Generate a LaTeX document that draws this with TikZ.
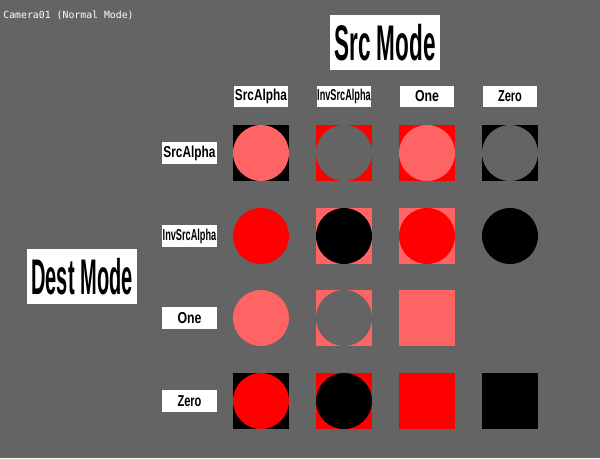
\documentclass[tikz,border=0pt]{standalone}
\usepackage{fontspec}
\setmainfont{Liberation Sans}
\setmonofont{DejaVu Sans Mono}
\usepackage{graphicx}
\usepackage{tikz}
\usetikzlibrary{positioning}

\definecolor{bggray}{RGB}{100,100,100}
\definecolor{redlight}{RGB}{255,100,100}
\definecolor{redfull}{RGB}{255,0,0}

% squeeze a label sideways
\newcommand{\narrow}[2]{\scalebox{#1}[1]{#2}}

\begin{document}
\begin{tikzpicture}[
    x=0.02cm, y=-0.02cm,
    title/.style = {fill=white, minimum width=2.2cm, minimum height=1.1cm, inner sep=0pt,
                    font=\fontsize{28.5}{30}\selectfont\bfseries},
    lbl/.style   = {fill=white, minimum width=1.1cm, minimum height=0.43cm, inner sep=0pt,
                    font=\fontsize{9}{10}\selectfont\bfseries},
    sq/.style    = {rectangle, minimum size=1.12cm, inner sep=0pt},
    disc/.style  = {circle, minimum size=1.12cm, inner sep=0pt},
    cam/.style   = {anchor=base west, inner sep=0pt, text=white,
                    font=\fontsize{5.6}{6}\selectfont\ttfamily},
]
\fill[bggray] (0,0) rectangle (600,458);
\useasboundingbox (0,0) rectangle (600,458);

\node[cam] (camera) at (3,18.3) {Camera01 (Normal Mode)};

% ============ headings ============
\node[title] (src) at (385,42.5) {\narrow{0.45}{Src Mode}};
\node[title] (dst) at (82,276.5) {\narrow{0.40}{Dest Mode}};

% column labels (source factor)
\node[lbl] (cSA)  at (261,96.5) {\narrow{0.75}{SrcAlpha}};
\node[lbl] (cISA) at (344,96.5) {\narrow{0.58}{InvSrcAlpha}};
\node[lbl] (cOne) at (427,96.5) {\narrow{0.78}{One}};
\node[lbl] (cZer) at (510,96.5) {\narrow{0.70}{Zero}};

% row labels (dest factor)
\node[lbl] (rSA)  at (189.5,153) {\narrow{0.75}{SrcAlpha}};
\node[lbl] (rISA) at (189.5,236) {\narrow{0.58}{InvSrcAlpha}};
\node[lbl] (rOne) at (189.5,318) {\narrow{0.78}{One}};
\node[lbl] (rZer) at (189.5,401) {\narrow{0.70}{Zero}};

% ============ row: SrcAlpha ============
\node[sq, fill=black]   (s11) at (261,153) {};
\node[disc, fill=redlight] (d11) at (s11) {};
\node[sq, fill=redfull] (s12) at (344,153) {};
\node[disc, fill=bggray] (d12) at (s12) {};
\node[sq, fill=redfull] (s13) at (427,153) {};
\node[disc, fill=redlight] (d13) at (s13) {};
\node[sq, fill=black]   (s14) at (510,153) {};
\node[disc, fill=bggray] (d14) at (s14) {};

% ============ row: InvSrcAlpha ============
\node[disc, fill=redfull] (d21) at (261,236) {};
\node[sq, fill=redlight] (s22) at (344,236) {};
\node[disc, fill=black] (d22) at (s22) {};
\node[sq, fill=redlight] (s23) at (427,236) {};
\node[disc, fill=redfull] (d23) at (s23) {};
\node[disc, fill=black] (d24) at (510,236) {};

% ============ row: One ============
\node[disc, fill=redlight] (d31) at (261,318) {};
\node[sq, fill=redlight] (s32) at (344,318) {};
\node[disc, fill=bggray] (d32) at (s32) {};
\node[sq, fill=redlight] (s33) at (427,318) {};
\node[disc, fill=redlight] (d33) at (s33) {};

% ============ row: Zero ============
\node[sq, fill=black]   (s41) at (261,401) {};
\node[disc, fill=redfull] (d41) at (s41) {};
\node[sq, fill=redfull] (s42) at (344,401) {};
\node[disc, fill=black] (d42) at (s42) {};
\node[sq, fill=redfull] (s43) at (427,401) {};
\node[disc, fill=redfull] (d43) at (s43) {};
\node[sq, fill=black]   (s44) at (510,401) {};
\node[disc, fill=black] (d44) at (s44) {};

\end{tikzpicture}
\end{document}
